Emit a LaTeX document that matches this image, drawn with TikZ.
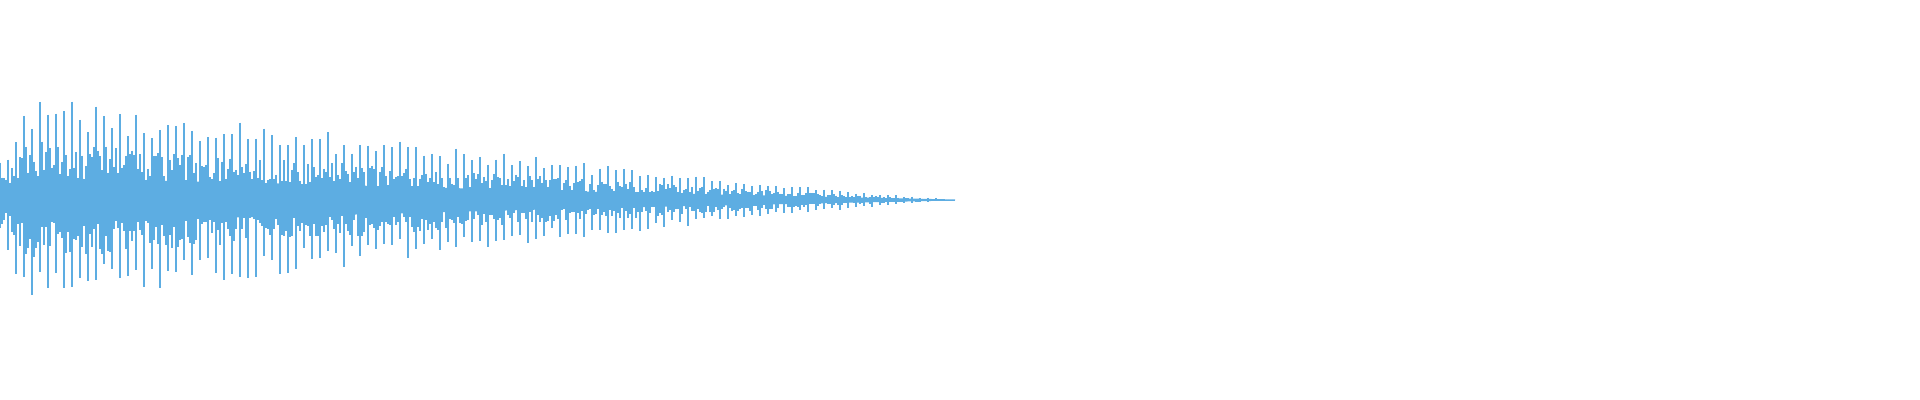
\documentclass[tikz,border=0pt]{standalone}
\usepackage{tikz}
\definecolor{wave}{RGB}{93,173,226}
\tikzset{
  bar/.style={draw=wave, line width=0.45pt}
}
\begin{document}
\begin{tikzpicture}[x=0.01cm, y=0.01cm]
    % Canvas
    \useasboundingbox (0,0) rectangle (1920,400);
    \pgfmathsetseed{7}
    % Dense body of the waveform
    \fill[wave] (0,190) -- (40,178) -- (300,184) -- (600,192) -- (955,199.5) -- (955,200.5) -- (600,208) -- (300,216) -- (40,222) -- (0,210) -- cycle;
    % Samples
    \foreach \i in {0,...,477} {
        \pgfmathsetmacro{\px}{2*\i}
        \pgfmathsetmacro{\env}{112*(1-\px/960)^1.15*min(1,\px/45+0.35)}
        \pgfmathsetmacro{\big}{mod(\i,4)==0 ? 1 : 0}
        \pgfmathsetmacro{\up}{\env*(\big ? 0.65+0.35*rnd : 0.2+0.35*rnd)}
        \pgfmathsetmacro{\dn}{\env*(\big ? 0.65+0.35*rnd : 0.2+0.35*rnd)}
        \draw[bar] (\px,200+\up) -- (\px,200-\dn);
    }
\end{tikzpicture}
\end{document}
